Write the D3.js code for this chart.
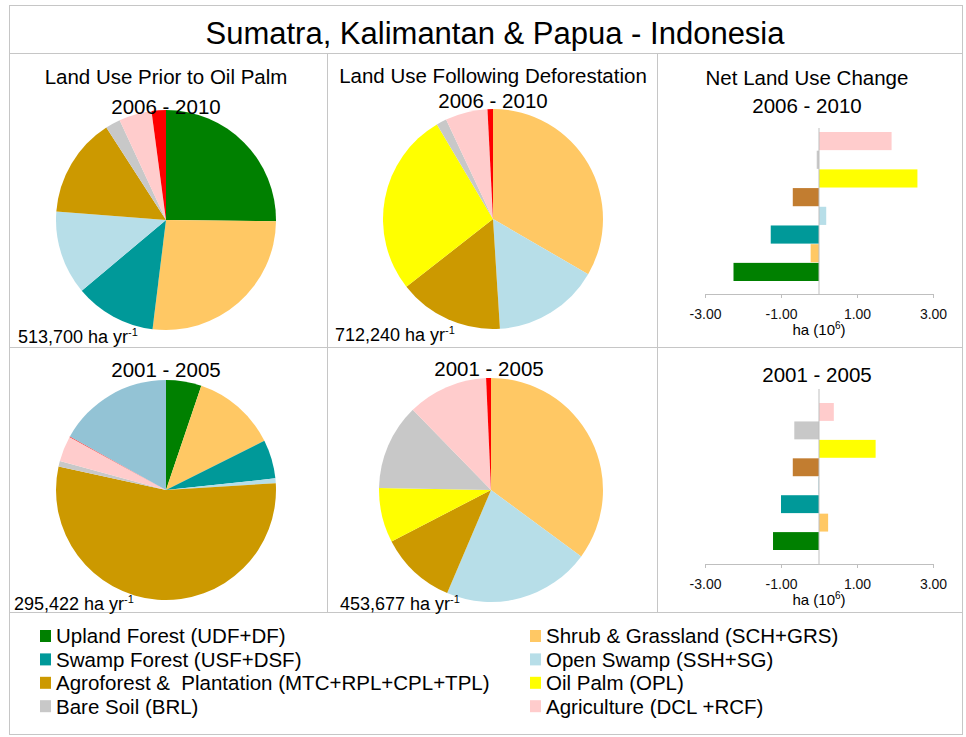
<!DOCTYPE html>
<html lang="en">
<head>
  <meta charset="UTF-8" />
  <title>Sumatra, Kalimantan &amp; Papua - Indonesia</title>
  <script src="https://d3js.org/d3.v7.min.js"></script>
  <style>
    body { margin: 0; background: #fff; }
    svg { display: block; font-family: "Liberation Sans", Arial, sans-serif; }
    .frame { stroke: #c6c6c6; stroke-width: 1; fill: none; shape-rendering: crispEdges; }
    .axis path, .axis line { stroke: #bfbfbf; shape-rendering: crispEdges; }
    .axis text { font-size: 14px; fill: #111; font-family: "Liberation Sans", Arial, sans-serif; }
    .legend text { white-space: pre; }
  </style>
</head>
<body>
  <div id="chart"></div>
  <script>
    // land use classes (last two are unlabeled slices in the source)
    const landUse = [
      'Upland Forest (UDF+DF)', 'Shrub & Grassland (SCH+GRS)', 'Swamp Forest (USF+DSF)',
      'Open Swamp (SSH+SG)', 'Agroforest &  Plantation (MTC+RPL+CPL+TPL)', 'Oil Palm (OPL)',
      'Bare Soil (BRL)', 'Agriculture (DCL +RCF)', 'Other A', 'Other B'
    ];
    const colors = ['#008000', '#ffc864', '#009999', '#b7dee8', '#cc9900', '#ffff00',
                    '#c8c8c8', '#ffcccc', '#ff0000', '#93c3d5'];
    const barColors = ['#008000', '#ffc864', '#009999', '#b7dee8', '#c27d30', '#ffff00',
                       '#c8c8c8', '#ffcccc'];

    // pie shares (%)
    const prior0610  = [25.1, 26.7, 11.9, 12.3, 14.6, 0, 2.2, 4.8, 2.1, 0];
    const follow0610 = [0, 33.3, 0, 15.6, 15.4, 27.0, 1.5, 6.2, 0.8, 0];
    const prior0105  = [5.2, 12.4, 5.7, 0.7, 54.4, 0, 0.8, 3.75, 0.1, 16.9];
    const follow0105 = [0, 35.1, 0, 21.3, 11.0, 7.9, 12.4, 11.6, 0.7, 0];

    // net change, ha (10^6), first 8 classes, bottom to top
    const net0610 = [-2.25, -0.22, -1.27, 0.19, -0.69, 2.59, -0.06, 1.91];
    const net0105 = [-1.21, 0.24, -1.00, -0.02, -0.69, 1.49, -0.65, 0.39];
    const xTicks = [-3, -1, 1, 3];

    const legendLeft = [0, 2, 4, 6];
    const legendRight = [1, 3, 5, 7];

    const W = 966, H = 737;
    const svg = d3.select('#chart').append('svg').attr('width', W).attr('height', H);

    // frame
    svg.append('rect').attr('class', 'frame').attr('x', 9.5).attr('y', 5.5).attr('width', 953).attr('height', 729);
    [53.5, 347.5, 612.5].forEach(y => {
      svg.append('line').attr('class', 'frame').attr('x1', 9.5).attr('x2', 962.5).attr('y1', y).attr('y2', y);
    });
    [327.5, 657.5].forEach(x => {
      svg.append('line').attr('class', 'frame').attr('x1', x).attr('x2', x).attr('y1', 53.5).attr('y2', 612.5);
    });

    svg.append('text')
      .attr('x', 495).attr('y', 44)
      .attr('text-anchor', 'middle')
      .attr('font-size', '31px')
      .text('Sumatra, Kalimantan & Papua - Indonesia');

    // pies
    const pies = [
      { values: prior0610,  cx: 166, cy: 220, r: 110, total: '513,700', tx: 18,  ty: 343 },
      { values: follow0610, cx: 493, cy: 219, r: 110, total: '712,240', tx: 335, ty: 341 },
      { values: prior0105,  cx: 166, cy: 490, r: 110, total: '295,422', tx: 14,  ty: 610 },
      { values: follow0105, cx: 491, cy: 490, r: 112, total: '453,677', tx: 340, ty: 610 }
    ];
    const pie = d3.pie().sort(null).value(d => d);

    pies.forEach(p => {
      const arc = d3.arc().innerRadius(0).outerRadius(p.r);
      svg.append('g')
        .attr('transform', `translate(${p.cx},${p.cy})`)
        .selectAll('path')
        .data(pie(p.values))
        .join('path')
        .attr('d', arc)
        .attr('fill', (d, i) => colors[i]);

      const t = svg.append('text')
        .attr('x', p.tx).attr('y', p.ty)
        .attr('font-size', '18px');
      t.append('tspan').text(`${p.total} ha yr`);
      t.append('tspan').attr('dy', -7).attr('font-size', '11px').text('-1');
    });

    // bar charts
    const x = d3.scaleLinear().domain([-3, 3]).range([705, 933]);
    const bars = [
      { values: net0610, top: 132, bottom: 281, lineTop: 128, axisY: 294 },
      { values: net0105, top: 403, bottom: 550, lineTop: 389, axisY: 564 }
    ];
    const barCats = landUse.slice(0, 8);

    bars.forEach(b => {
      const y = d3.scaleBand().domain(barCats).range([b.bottom, b.top]).paddingInner(0.03);

      svg.append('g')
        .selectAll('rect')
        .data(b.values)
        .join('rect')
        .attr('x', d => x(Math.min(0, d)))
        .attr('width', d => Math.abs(x(d) - x(0)))
        .attr('y', (d, i) => y(barCats[i]))
        .attr('height', y.bandwidth())
        .attr('fill', (d, i) => barColors[i]);

      svg.append('line')
        .attr('x1', x(0)).attr('x2', x(0))
        .attr('y1', b.lineTop).attr('y2', b.axisY)
        .attr('stroke', '#bfbfbf');

      svg.append('g')
        .attr('class', 'axis')
        .attr('transform', `translate(0,${b.axisY})`)
        .call(d3.axisBottom(x).tickValues(xTicks).tickSize(4).tickSizeOuter(0).tickPadding(11)
          .tickFormat(d => d.toFixed(2)));

      const lbl = svg.append('text')
        .attr('x', x(0)).attr('y', b.axisY + 41)
        .attr('text-anchor', 'middle')
        .attr('font-size', '15px');
      lbl.append('tspan').text('ha (10');
      lbl.append('tspan').attr('dy', -6).attr('font-size', '10px').text('6');
      lbl.append('tspan').attr('dy', 6).text(')');
    });

    // panel titles
    const titles = [
      { x: 166, y: 84,  text: 'Land Use Prior to Oil Palm' },
      { x: 166, y: 114, text: '2006 - 2010' },
      { x: 493, y: 83,  text: 'Land Use Following Deforestation' },
      { x: 493, y: 108, text: '2006 - 2010' },
      { x: 807, y: 85,  text: 'Net Land Use Change' },
      { x: 807, y: 113, text: '2006 - 2010' },
      { x: 166, y: 377, text: '2001 - 2005' },
      { x: 489, y: 376, text: '2001 - 2005' },
      { x: 817, y: 382, text: '2001 - 2005' }
    ];
    svg.selectAll('.ptitle')
      .data(titles)
      .join('text')
      .attr('class', 'ptitle')
      .attr('x', d => d.x).attr('y', d => d.y)
      .attr('text-anchor', 'middle')
      .attr('font-size', '20.5px')
      .text(d => d.text);

    // legend
    const legend = svg.append('g').attr('class', 'legend');
    [[legendLeft, 40], [legendRight, 530]].forEach(([items, lx]) => {
      items.forEach((k, j) => {
        const cy = 636 + j * 23.4;
        legend.append('rect')
          .attr('x', lx).attr('y', cy - 6).attr('width', 11).attr('height', 12)
          .attr('fill', colors[k]);
        legend.append('text')
          .attr('x', lx + 16).attr('y', cy).attr('dy', '0.36em')
          .attr('font-size', '20.5px')
          .text(landUse[k]);
      });
    });
  </script>
</body>
</html>
